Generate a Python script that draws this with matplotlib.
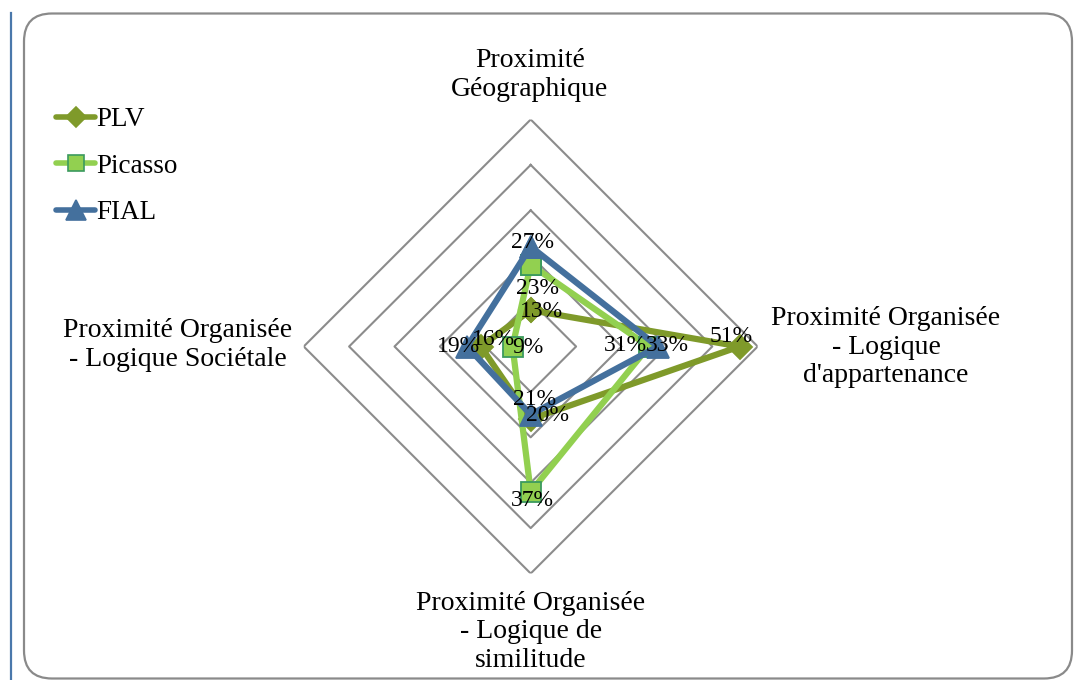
import numpy as np
import matplotlib
matplotlib.use("Agg")
import matplotlib.pyplot as plt
from matplotlib.patches import FancyBboxPatch
from matplotlib.lines import Line2D

plt.rcParams['font.family'] = ['Liberation Serif', 'DejaVu Serif']

# axes of the radar, clockwise from the top
categories = [
    "Proximité\nGéographique",
    "Proximité Organisée\n- Logique\nd'appartenance",
    "Proximité Organisée\n- Logique de\nsimilitude",
    "Proximité Organisée\n- Logique Sociétale",
]
series_names = ["PLV", "Picasso", "FIAL"]
plv = [0.13, 0.51, 0.21, 0.16]
picasso = [0.23, 0.31, 0.37, 0.09]
fial = [0.27, 0.33, 0.20, 0.19]
ring_values = [0.15, 0.25, 0.35, 0.45, 0.55]

colors = ["#7f9a2a", "#92d050", "#44709d"]
markers = ["D", "s", "^"]
msizes = [12, 14, 16]
medges = ["#7f9a2a", "#3b9a5e", "#44709d"]
# label offsets in points (dx, dy) for each series / axis
label_offsets = [
    [(8, -1), (-6, 7), (3, 14), (9, 5)],
    [(5, -17), (-17, 1), (1, -6), (11, -1)],
    [(1, 3), (7, 1), (12, -1), (-6, 0)],
]

fig = plt.figure(figsize=(10.85, 6.8), dpi=100)

# page margin line and rounded chart border
fig.add_artist(Line2D([11, 11], [0, 667], transform=None, color="#4a78ab", lw=1.6))
box = FancyBboxPatch((24, 1.5), 1048, 665, boxstyle="round,pad=0,rounding_size=28",
                     transform=None, facecolor="none", edgecolor="#8a8a8a", lw=1.6)
fig.add_artist(box)

cx, cy, rad = 530.7, 346.5, 227
W, H = 1085, 680
ax = fig.add_axes([(cx - rad) / W, (H - cy - rad) / H, 2 * rad / W, 2 * rad / H],
                  projection="polar")
ax.set_theta_offset(np.pi / 2)
ax.set_theta_direction(-1)
ax.set_rlim(0.05, 0.55)
ax.set_xticks([])
ax.set_yticks([])
ax.spines["polar"].set_visible(False)
ax.grid(False)
ax.patch.set_alpha(0)

theta = np.linspace(0, 2 * np.pi, len(categories), endpoint=False)
theta_closed = np.append(theta, theta[0])

for rv in ring_values:
    ax.plot(theta_closed, [rv] * len(theta_closed), color="#8c8c8c", lw=1.5, zorder=1)

all_series = [plv, picasso, fial]
handles = []
for i, vals in enumerate(all_series):
    vals_closed = vals + [vals[0]]
    ax.plot(theta_closed, vals_closed, color=colors[i], lw=4.5,
            marker=markers[i], markersize=msizes[i],
            markerfacecolor=colors[i], markeredgecolor=medges[i],
            markeredgewidth=1.3, zorder=3 + i, clip_on=False)
    handles.append(Line2D([], [], color=colors[i], lw=4.0, marker=markers[i],
                          markersize=msizes[i] - 2, markerfacecolor=colors[i],
                          markeredgecolor=medges[i], markeredgewidth=1.2,
                          solid_capstyle="round"))
    for j, v in enumerate(vals):
        dx, dy = label_offsets[i][j]
        ax.annotate(f"{round(v * 100)}%", xy=(theta[j], v), xytext=(dx, dy),
                    textcoords="offset points", ha="center", va="center",
                    fontsize=17, color="black", zorder=10, annotation_clip=False)

# category labels
cat_pos = [(530, 75), (886, 347), (531, 632), (178, 345)]
for text, (px, py) in zip(categories, cat_pos):
    fig.text(px / W, 1 - py / H, text, ha="center", va="center",
             fontsize=20, linespacing=1.17)

fig.legend(handles, series_names, loc="upper left",
           bbox_to_anchor=(56 / W, 1 - 107 / H), frameon=False,
           fontsize=19.5, handlelength=1.45, handletextpad=0.05,
           labelspacing=0.8, borderaxespad=0, borderpad=0)

fig.savefig("out.png", dpi=100)
